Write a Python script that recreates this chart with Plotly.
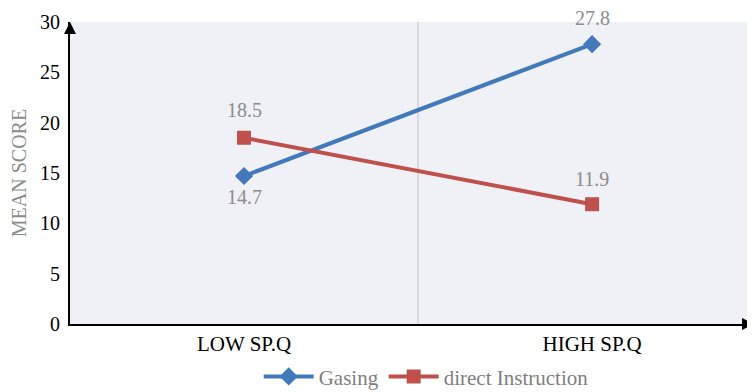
import plotly.graph_objects as go

categories = ["LOW SP.Q", "HIGH SP.Q"]
gasing = [14.7, 27.8]
direct = [18.5, 11.9]
y_ticks = [0, 5, 10, 15, 20, 25, 30]

FONT = "Liberation Serif, Times New Roman, serif"
LABEL_FONT = dict(family=FONT, size=20, color="#8c8c8c")

fig = go.Figure()
fig.add_trace(go.Scatter(
    x=categories, y=gasing, name="Gasing", mode="lines+markers",
    line=dict(color="#4378bb", width=4),
    marker=dict(symbol="diamond", size=14, color="#4378bb"),
))
fig.add_trace(go.Scatter(
    x=categories, y=direct, name="direct Instruction", mode="lines+markers",
    line=dict(color="#c0504d", width=4),
    marker=dict(symbol="square", size=14, color="#c0504d"),
))

# data labels (below for the first Gasing point, above otherwise)
for series, shifts in ((gasing, (-21, 26)), (direct, (28, 25))):
    for cat, val, dy in zip(categories, series, shifts):
        fig.add_annotation(x=cat, y=val, text=f"{val}", showarrow=False,
                           yshift=dy, font=LABEL_FONT, borderpad=0)

fig.update_layout(
    width=747, height=384,
    margin=dict(l=62, r=0, t=14, b=68, autoexpand=False),
    paper_bgcolor="white", plot_bgcolor="#eff1f6",
    font=dict(family=FONT, size=20, color="black"),
    showlegend=True,
    legend=dict(orientation="h", x=0.52, xanchor="center", y=-0.107, yanchor="top",
                font=dict(family=FONT, size=21, color="#7f7f7f"), itemwidth=50),
    xaxis=dict(type="category", range=[-0.5, 1.468], showline=True, linecolor="black",
               linewidth=2, showgrid=True, gridcolor="#d9d9d9", gridwidth=2,
               tickson="boundaries", ticks="", automargin=False,
               tickfont=dict(family=FONT, size=21, color="black"),
               zeroline=False),
    yaxis=dict(range=[0, 30], tickvals=y_ticks, showline=True, linecolor="black", linewidth=2,
               showgrid=False, zeroline=False, ticks="outside", ticklen=4,
               tickcolor="rgba(0,0,0,0)", automargin=False,
               tickfont=dict(family=FONT, size=20, color="black"),
               title=dict(text="MEAN SCORE", font=dict(family=FONT, size=20, color="#8c8c8c"),
                          standoff=12)),
)

# axis arrowheads
fig.add_annotation(x=0, y=1.0, xref="paper", yref="paper", ax=0, ay=12,
                   showarrow=True, arrowhead=2, arrowsize=1.2, arrowwidth=2, arrowcolor="black", text="")
fig.add_annotation(x=1.0, y=0, xref="paper", yref="paper", ax=-12, ay=0,
                   showarrow=True, arrowhead=2, arrowsize=1.2, arrowwidth=2, arrowcolor="black", text="")

fig.write_html("out.html")
